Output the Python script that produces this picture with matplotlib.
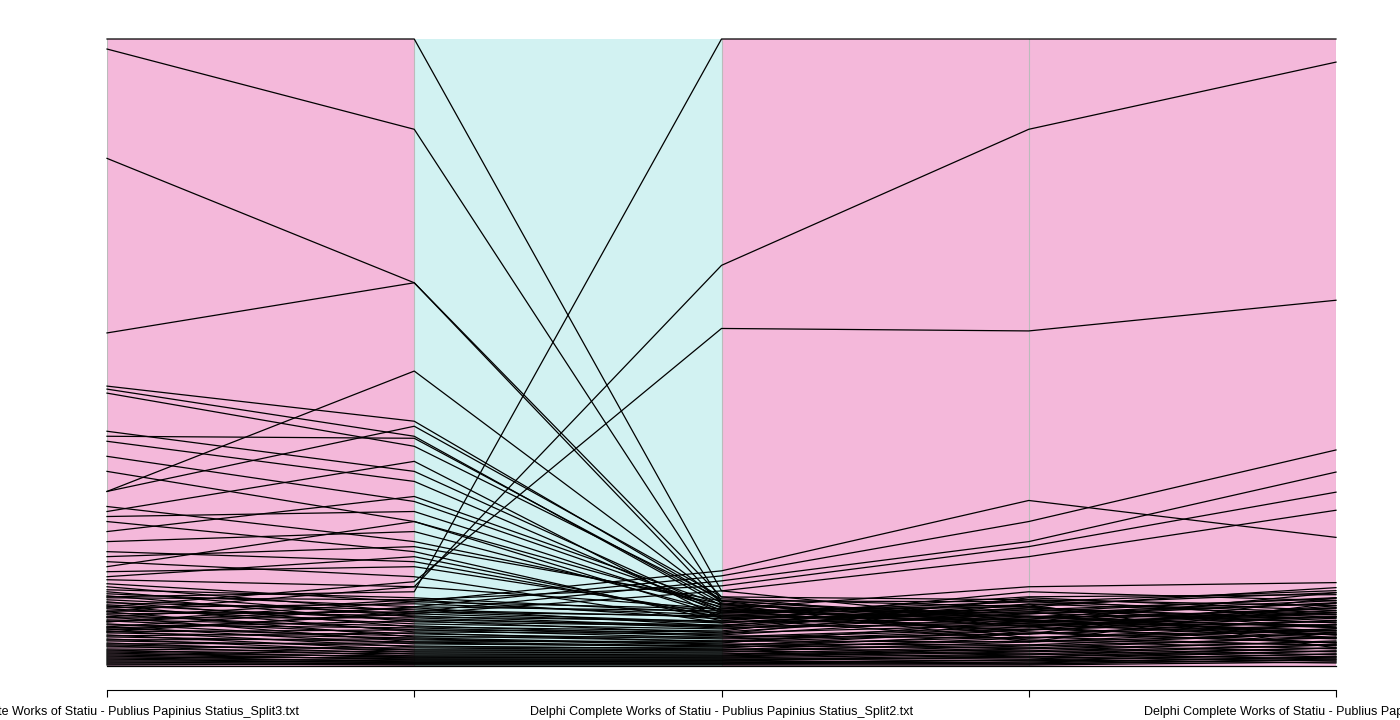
import matplotlib
matplotlib.use("Agg")
import matplotlib.pyplot as plt
import numpy as np

plt.rcParams['font.family'] = ['Liberation Sans', 'DejaVu Sans']

labels = ["Delphi Complete Works of Statiu - Publius Papinius Statius_Split3.txt",
          "Delphi Complete Works of Statiu - Publius Papinius Statius_Split4.txt",
          "Delphi Complete Works of Statiu - Publius Papinius Statius_Split2.txt",
          "Delphi Complete Works of Statiu - Publius Papinius Statius_Split5.txt",
          "Delphi Complete Works of Statiu - Publius Papinius Statius_Split1.txt"]
shown = [True, False, True, False, True]
seg_colors = ["#F4B8DA", "#D2F2F2", "#F4B8DA", "#F4B8DA"]

# values (screen row of each word, larger = lower frequency), one list per column
top1 = [49, 158, 332, 39, 595, 610, 605, 490, 620, 625, 630, 615, 628]
top2 = [129, 282, 282, 39, 590, 585, 580, 370, 600, 605, 610, 598, 612]
top3 = [600, 603, 596, 590, 39, 265, 328, 600, 570, 575, 580, 585, 590]
top4 = [618, 622, 625, 620, 39, 129, 330, 615, 499, 520, 540, 545, 555]
top5 = [628, 635, 640, 632, 39, 62, 299, 625, 535, 448, 470, 490, 508]

mid1 = [385, 388, 392, 430, 435, 440, 455, 470, 490, 505, 510, 515, 520, 530, 540, 550, 555, 560, 565, 570, 575, 578]
mid2 = [420, 435, 445, 470, 437, 480, 500, 520, 425, 540, 460, 510, 550, 495, 530, 560, 545, 575, 520, 565, 555, 585]
mid3 = [600, 605, 598, 610, 602, 612, 607, 615, 596, 603, 618, 609, 620, 604, 611, 616, 600, 622, 606, 613, 617, 608]
mid4 = [600, 612, 605, 630, 620, 608, 625, 618, 598, 640, 610, 632, 622, 615, 603, 628, 636, 606, 624, 614, 638, 619]
mid5 = [610, 598, 625, 640, 590, 620, 605, 630, 615, 600, 635, 595, 622, 612, 645, 603, 628, 618, 608, 632, 642, 614]

d1 = [582, 585, 588, 590, 592, 594, 596, 598, 600, 601, 603, 604, 606, 607, 609, 610, 612, 613, 615, 616,
      618, 619, 620, 622, 623, 625, 626, 627, 629, 630, 631, 633, 634, 635, 637, 638, 639, 641, 642, 643,
      644, 645, 647, 648, 649, 650, 651, 652, 653, 654, 655, 656, 657, 658, 659, 660, 661, 662, 663, 664]
d2 = [600, 610, 596, 615, 605, 620, 598, 612, 625, 608, 618, 630, 602, 622, 614, 635, 610, 628, 640, 616,
      624, 632, 606, 638, 626, 642, 619, 634, 645, 628, 636, 648, 631, 640, 650, 637, 644, 652, 641, 648,
      654, 646, 650, 656, 652, 655, 658, 654, 657, 660, 656, 659, 661, 658, 660, 662, 661, 663, 662, 664]
d3 = [608, 615, 612, 620, 610, 625, 618, 622, 630, 616, 624, 633, 614, 628, 626, 636, 621, 631, 640, 627,
      634, 638, 625, 642, 635, 645, 632, 640, 647, 637, 643, 649, 641, 645, 651, 644, 648, 653, 646, 650,
      655, 649, 652, 656, 654, 657, 659, 655, 658, 660, 657, 660, 662, 659, 661, 663, 662, 664, 663, 665]
d4 = [585, 595, 600, 590, 605, 598, 610, 603, 596, 615, 608, 602, 620, 612, 606, 625, 617, 611, 628, 621,
      615, 632, 624, 619, 636, 628, 623, 640, 632, 627, 643, 636, 631, 646, 640, 635, 649, 644, 639, 652,
      647, 643, 655, 650, 646, 657, 653, 649, 659, 655, 652, 661, 658, 655, 662, 660, 658, 663, 662, 664]
d5 = [580, 592, 588, 598, 585, 603, 595, 590, 608, 600, 596, 612, 605, 601, 616, 610, 606, 620, 614, 610,
      624, 618, 614, 628, 622, 618, 632, 626, 622, 636, 630, 626, 640, 634, 631, 643, 638, 635, 646, 642,
      639, 649, 645, 642, 652, 648, 645, 654, 651, 648, 656, 654, 651, 658, 656, 654, 660, 659, 657, 663]

cols = [top1 + mid1 + d1, top2 + mid2 + d2, top3 + mid3 + d3, top4 + mid4 + d4, top5 + mid5 + d5]

fig = plt.figure(figsize=(14, 7.2), dpi=100)
ax = fig.add_axes([107/1400, 1-666/720, (1336-107)/1400, (666-39)/720])

data = np.array([[666 - v for v in c] for c in cols], dtype=float)  # heights
norm = (data - data.min(axis=1, keepdims=True)) / (data.max(axis=1, keepdims=True) - data.min(axis=1, keepdims=True))
x = np.arange(5)

for i, c in enumerate(seg_colors):
    ax.axvspan(i, i+1, color=c, lw=0, zorder=0)
for xi in x:
    ax.axvline(xi, color="#BBBBBB", lw=0.8, zorder=1)
for j in range(norm.shape[1]):
    ax.plot(x, norm[:, j], color="black", lw=0.9, zorder=2, clip_on=False)

ax.set_xlim(0, 4)
ax.set_ylim(0, 1)
for s in ["top", "left", "right"]:
    ax.spines[s].set_visible(False)
ax.spines["bottom"].set_position(("outward", 17))
ax.spines["bottom"].set_linewidth(0.8)
ax.set_yticks([])
ax.set_xticks(x)
ax.set_xticklabels([l if s else "" for l, s in zip(labels, shown)], fontsize=9)
ax.tick_params(axis="x", direction="out", length=5, width=0.8, pad=7)
fig.savefig("out.png", dpi=100)
